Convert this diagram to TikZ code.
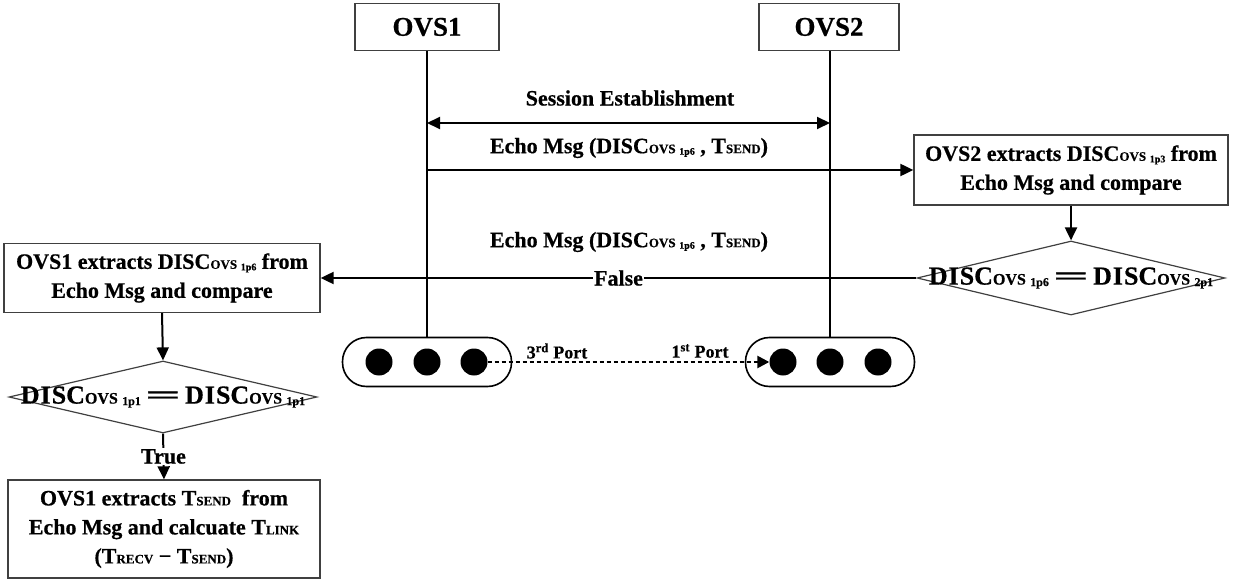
\documentclass[tikz,border=0pt]{standalone}
\usepackage{fontspec}
\setmainfont{Liberation Serif}[BoldFeatures={FakeBold=0.6}]
\usepackage{graphicx}
\usetikzlibrary{arrows.meta,shapes.geometric}
\newcommand{\smcap}[1]{{\fontsize{13}{13}\selectfont #1}}
\newcommand{\tinysub}[1]{\raisebox{-1.5pt}{\fontsize{10}{10}\selectfont #1}}
\newcommand{\disc}[1]{DISC\smcap{OVS}\,\tinysub{#1}}
\newcommand{\tsub}[1]{T\smcap{#1}}
\newcommand{\bigdisc}[1]{D\kern1pt I\kern1pt SC{\fontsize{16}{16}\selectfont OVS}\,\raisebox{-1.5pt}{\fontsize{12}{12}\selectfont #1}}
\newcommand{\longeq}{\,\scalebox{2.4}[1]{=}\,}
\begin{document}
\begin{tikzpicture}[x=1pt,y=-1pt,
  font=\bfseries\fontsize{22}{29}\selectfont,
  box/.style={draw=black!75, line width=1.3pt, inner sep=0pt, align=center},
  dia/.style={draw=black!75, line width=1.2pt, shape=diamond, inner sep=0pt,
    font=\bfseries\fontsize{26}{29}\selectfont},
  arr/.style={line width=2pt, -{Triangle[length=13pt,width=12pt]}},
  dblarr/.style={line width=2pt, {Triangle[length=13pt,width=12pt]}-{Triangle[length=13pt,width=12pt]}},
  life/.style={line width=2pt},
  port/.style={draw, line width=1.6pt, rounded corners=24pt, minimum width=169pt, minimum height=49pt},
  dot/.style={circle, fill=black, minimum size=27pt, inner sep=0pt},
  dasharr/.style={line width=2.5pt, dash pattern=on 4pt off 3pt, -{Triangle[length=12pt,width=12pt]}},
  lbl/.style={inner sep=1pt},
  ovsfont/.style={font=\bfseries\fontsize{27}{30}\selectfont},
  portfont/.style={font=\bfseries\fontsize{18}{20}\selectfont}]
\useasboundingbox (0,0) rectangle (1233,585);

% actors
\node[box, ovsfont, minimum width=144pt, minimum height=47pt] (ovs1) at (427,27) {OVS1};
\node[box, ovsfont, minimum width=140pt, minimum height=47pt] (ovs2) at (829,27) {OVS2};

% port boxes
\node[port] (p1) at (427,362) {};
\node[port] (p2) at (830,362) {};
\node[dot] (c11) at (379,362) {};
\node[dot] (c12) at (427,362) {};
\node[dot] (c13) at (474,362) {};
\node[dot] (c21) at (783,362) {};
\node[dot] (c22) at (830,362) {};
\node[dot] (c23) at (878,362) {};

% lifelines
\draw[life] (ovs1.south) -- (p1.north);
\draw[life] (ovs2.south -| p2.north) -- (p2.north);

% right side
\node[box, minimum width=314pt, minimum height=70pt] (rbox) at (1071,170)
  {OVS2 extracts \disc{1p3} from\\Echo Msg and compare};
\node[dia, minimum width=308pt, minimum height=74pt] (rd) at (1071,278)
  {\makebox[0pt]{\bigdisc{1p6}\longeq\bigdisc{2p1}}};

% left side
\node[box, minimum width=316pt, minimum height=69pt] (lbox) at (162,278)
  {OVS1 extracts \disc{1p6} from\\Echo Msg and compare};
\node[dia, minimum width=308pt, minimum height=72pt] (ld) at (163,397)
  {\makebox[0pt]{\bigdisc{1p1}\longeq\bigdisc{1p1}}};
\node[box, minimum width=312pt, minimum height=98pt] (bbox) at (164,529)
  {OVS1 extracts \tsub{SEND}\ \ from\\Echo Msg and calcuate \tsub{LINK}\\(\tsub{RECV} − \tsub{SEND})};

% messages
\coordinate (yse) at (0,123);
\draw[dblarr] (ovs1 |- yse) -- (p2.north |- yse);
\node[lbl] (lse) at (630,98) {Session Establishment};
\node[lbl] (le1) at (629,148) {Echo Msg (\disc{1p6} , \tsub{SEND})};
\draw[arr] (ovs1 |- rbox.west) -- (rbox.west);
\node[lbl] (le2) at (629,242) {Echo Msg (\disc{1p6} , \tsub{SEND})};

\draw[arr] (rbox.south) -- (rd.north);
\draw[arr] (rd.west) -- node[lbl, fill=white, pos=0.5] (lfalse) {False} (lbox.east);
\draw[arr] (lbox.south) -- (ld.north);
\draw[arr] (ld.south) -- node[lbl, fill=white, pos=0.5] (ltrue) {True} (bbox.north);

% port link
\draw[dasharr] (c13) -- (c21);
\node[portfont] (l3) at (557,351) {3\textsuperscript{rd} Port};
\node[portfont] (l1) at (700,351) {1\textsuperscript{st} Port};
\end{tikzpicture}
\end{document}
